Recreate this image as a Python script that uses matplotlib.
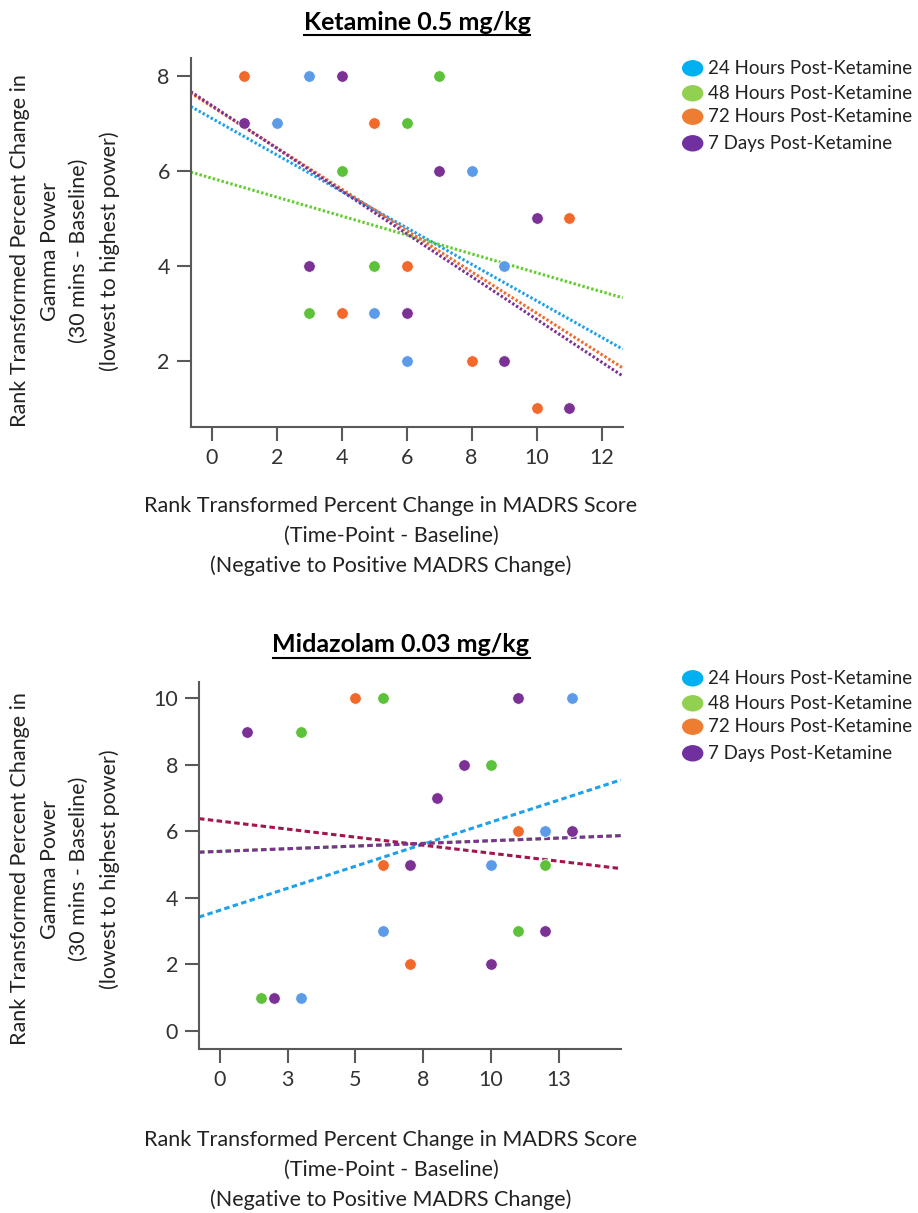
import numpy as np
import matplotlib
matplotlib.use("Agg")
import matplotlib.pyplot as plt
from matplotlib.patches import Ellipse
from matplotlib.lines import Line2D

plt.rcParams['font.family'] = ['Lato', 'DejaVu Sans']

W, H = 918, 1213

series_names = ["24 Hours Post-Ketamine", "48 Hours Post-Ketamine",
                "72 Hours Post-Ketamine", "7 Days Post-Ketamine"]
point_colors = ['#5b9be8', '#5ec13a', '#f26a2b', '#7b3294']
legend_colors = ['#00b0f0', '#92d050', '#ed7d31', '#7030a0']

# Ketamine 0.5 mg/kg
ket_x = [[3, 2, 8, 9, 5, 6],
         [7, 6, 4, 5, 3],
         [1, 5, 11, 6, 4, 8, 10],
         [4, 1, 7, 10, 3, 6, 9, 11]]
ket_y = [[8, 7, 6, 4, 3, 2],
         [8, 7, 6, 4, 3],
         [8, 7, 5, 4, 3, 2, 1],
         [8, 7, 6, 5, 4, 3, 2, 1]]
ket_slope = [-0.384, -0.199, -0.435, -0.450]
ket_icpt = [7.10, 5.84, 7.35, 7.37]
ket_line_colors = ['#1fa0ea', '#66cc33', '#f26a2b', '#7b3294']

# Midazolam 0.03 mg/kg
mid_x = [[13, 12, 10, 6, 3],
         [6, 3, 10, 12, 11, 1.5],
         [5, 11, 6, 7],
         [11, 1, 9, 8, 13, 7, 12, 10, 2]]
mid_y = [[10, 6, 5, 3, 1],
         [10, 9, 8, 5, 3, 1],
         [10, 6, 5, 2],
         [10, 9, 8, 7, 6, 5, 3, 2, 1]]
mid_slope = [0.265, 0.032, -0.0965, 0.032]
mid_icpt = [3.63, 5.40, 6.31, 5.40]
mid_line_colors = ['#1fa0ea', '#66cc33', '#a3154f', '#7b3294']
mid_xticks = [0, 2.5, 5, 7.5, 10, 12.5]
mid_xticklabels = ['0', '3', '5', '8', '10', '13']

fig = plt.figure(figsize=(W / 100, H / 100), dpi=100)


def px_axes(l, t, r, b):
    return fig.add_axes([l / W, 1 - b / H, (r - l) / W, (b - t) / H])


def style_axes(ax):
    for s in ['top', 'right']:
        ax.spines[s].set_visible(False)
    for s in ['left', 'bottom']:
        ax.spines[s].set_color('#595959')
        ax.spines[s].set_linewidth(1.5)
    ax.tick_params(length=10, width=1.5, color='#595959', labelsize=15.5,
                   labelcolor='#333333', pad=5)


def draw_panel(ax, xs, ys, slopes, icpts, lcolors, xlim, ls):
    xx = np.array(xlim)
    for i in range(4):
        off = 0
        if ls == 'dash' and i == 3:
            off = 2.9
        style = (off, (1.8, 1.1)) if ls == 'dash' else (0, (0.8, 0.7))
        ax.plot(xx, slopes[i] * xx + icpts[i], color=lcolors[i], lw=2.2,
                linestyle=style, zorder=2, clip_on=False)
    for i in range(4):
        ax.scatter(xs[i], ys[i], s=70, color=point_colors[i],
                   edgecolors='white', linewidths=0.6, zorder=3)
    ax.set_xlim(xlim)


def legend_block(x_marker, x_text, rows_y):
    for i, yy in enumerate(rows_y):
        fig.add_artist(Ellipse((x_marker / W, 1 - yy / H), 20 / W, 15 / H,
                               transform=fig.transFigure,
                               color=legend_colors[i]))
        fig.text(x_text / W, 1 - yy / H, series_names[i], fontsize=13.5,
                 va='center', ha='left', color='#222222')


def add_title(cx, cy, text):
    t = fig.text(cx / W, 1 - cy / H, text, fontsize=18, fontweight='bold',
                 ha='center', va='center', color='black')
    return t


ylab = ("Rank Transformed Percent Change in\nGamma Power\n"
        "(30 mins - Baseline)\n(lowest to highest power)")
xlab = ("Rank Transformed Percent Change in MADRS Score\n"
        "(Time-Point - Baseline)\n(Negative to Positive MADRS Change)")

# top panel
ax1 = px_axes(190.7, 58, 622.7, 426.7)
style_axes(ax1)
draw_panel(ax1, ket_x, ket_y, ket_slope, ket_icpt, ket_line_colors,
           (-0.65, 12.65), 'dot')
ax1.set_ylim(0.61, 8.37)
ax1.set_xticks([0, 2, 4, 6, 8, 10, 12])
ax1.set_yticks([2, 4, 6, 8])
t1 = add_title(417, 22, "Ketamine 0.5 mg/kg")
fig.text(65 / W, 1 - 251 / H, ylab, rotation=90, fontsize=15.5,
         ha='center', va='center', linespacing=1.6, color='#222222')
fig.text(391 / W, 1 - 536 / H, xlab, fontsize=15.5, ha='center',
         va='center', linespacing=1.6, color='#222222')
legend_block(692.7, 708, [68.3, 93.3, 116.7, 143.3])

# bottom panel
ax2 = px_axes(199, 681.7, 620.7, 1049)
style_axes(ax2)
draw_panel(ax2, mid_x, mid_y, mid_slope, mid_icpt, mid_line_colors,
           (-0.77, 14.78), 'dash')
ax2.set_ylim(-0.54, 10.5)
ax2.set_xticks(mid_xticks)
ax2.set_xticklabels(mid_xticklabels)
ax2.set_yticks([0, 2, 4, 6, 8, 10])
t2 = add_title(401, 645, "Midazolam 0.03 mg/kg")
fig.text(65 / W, 1 - 869 / H, ylab, rotation=90, fontsize=15.5,
         ha='center', va='center', linespacing=1.6, color='#222222')
fig.text(391 / W, 1 - 1170 / H, xlab, fontsize=15.5, ha='center',
         va='center', linespacing=1.6, color='#222222')
legend_block(692.7, 708, [678.3, 703.3, 726.7, 753.3])

# underline the titles
fig.canvas.draw()
r = fig.canvas.get_renderer()
for t in [t1, t2]:
    bb = t.get_window_extent(renderer=r)
    yline = bb.y0 - 1
    fig.add_artist(Line2D([bb.x0 / W, bb.x1 / W], [yline / H, yline / H],
                          transform=fig.transFigure, color='black', lw=1.5))

fig.savefig("out.png", dpi=100)
